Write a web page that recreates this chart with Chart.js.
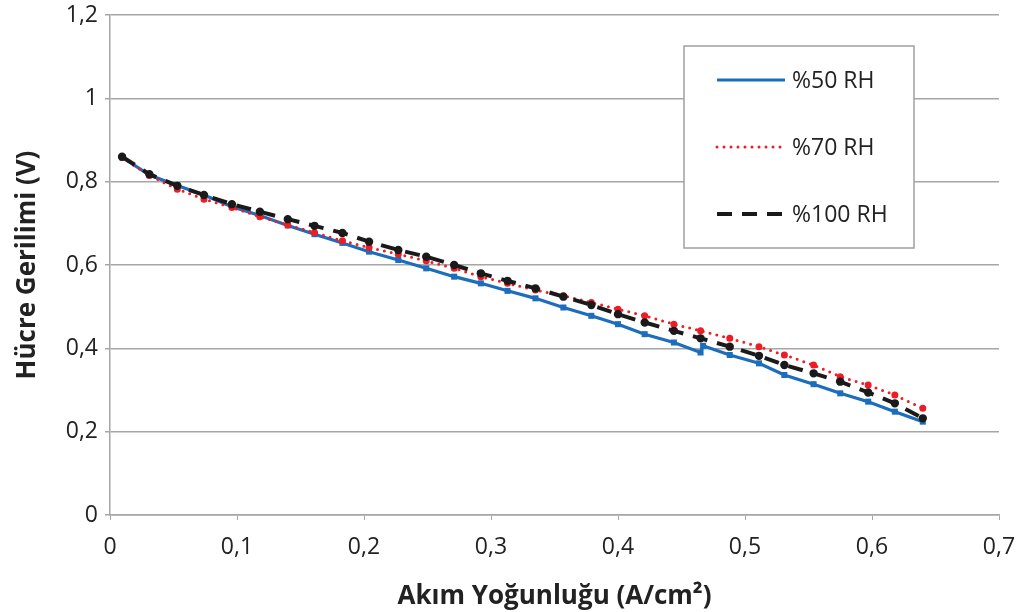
<!DOCTYPE html>
<html>
<head>
<meta charset="utf-8">
<script src="https://cdn.jsdelivr.net/npm/chart.js@4/dist/chart.umd.min.js"></script>
<style>
  html, body { margin: 0; padding: 0; background: #ffffff; }
  #wrap { width: 1023px; height: 612px; position: relative; }
</style>
</head>
<body>
<div id="wrap"><canvas id="c" width="1023" height="612"></canvas></div>
<script>
// ---- Data ----
const seriesNames = ["%50 RH", "%70 RH", "%100 RH"];

const currentRH50 = [0.0095, 0.031, 0.053, 0.074, 0.096, 0.118, 0.140, 0.161, 0.183, 0.204,
  0.227, 0.249, 0.271, 0.292, 0.313, 0.335, 0.357, 0.379, 0.400, 0.421,
  0.444, 0.465, 0.467, 0.488, 0.511, 0.531, 0.554, 0.575, 0.597, 0.618, 0.640];
const voltageRH50 = [0.859, 0.816, 0.791, 0.768, 0.740, 0.719, 0.695, 0.674, 0.653, 0.632,
  0.612, 0.592, 0.572, 0.556, 0.538, 0.520, 0.498, 0.478, 0.458, 0.434,
  0.414, 0.390, 0.406, 0.384, 0.364, 0.336, 0.314, 0.292, 0.272, 0.248, 0.224];

const currentRH70 = [0.0095, 0.031, 0.053, 0.074, 0.096, 0.118, 0.140, 0.161, 0.183, 0.204,
  0.227, 0.249, 0.271, 0.292, 0.313, 0.335, 0.357, 0.379, 0.400, 0.421,
  0.444, 0.465, 0.488, 0.511, 0.531, 0.554, 0.575, 0.597, 0.618, 0.640];
const voltageRH70 = [0.858, 0.815, 0.782, 0.758, 0.738, 0.716, 0.696, 0.678, 0.658, 0.642,
  0.626, 0.610, 0.592, 0.572, 0.556, 0.540, 0.526, 0.510, 0.494, 0.478,
  0.458, 0.442, 0.424, 0.404, 0.384, 0.360, 0.332, 0.312, 0.288, 0.256];

const currentRH100 = [0.0095, 0.031, 0.053, 0.074, 0.096, 0.118, 0.140, 0.161, 0.183, 0.204,
  0.227, 0.249, 0.271, 0.292, 0.313, 0.335, 0.357, 0.379, 0.400, 0.421,
  0.444, 0.465, 0.488, 0.511, 0.531, 0.554, 0.575, 0.597, 0.618, 0.640];
const voltageRH100 = [0.860, 0.818, 0.790, 0.768, 0.746, 0.728, 0.710, 0.694, 0.677, 0.656,
  0.636, 0.620, 0.600, 0.580, 0.562, 0.544, 0.524, 0.504, 0.482, 0.462,
  0.442, 0.424, 0.404, 0.382, 0.360, 0.340, 0.320, 0.294, 0.268, 0.232];

const xTickValues = [0, 0.1, 0.2, 0.3, 0.4, 0.5, 0.6, 0.7];
const yTickValues = [0, 0.2, 0.4, 0.6, 0.8, 1.0, 1.2];
const xTitle = "Akım Yoğunluğu (A/cm²)";
const yTitle = "Hücre Gerilimi (V)";

// ---- Helpers ----
const pairs = (xs, ys) => xs.map((x, i) => ({ x: x, y: ys[i] }));
const fmt = v => {
  const r = Math.round(v * 10) / 10;
  return String(r).replace('.', ',');
};
const FONT = "'Open Sans', 'DejaVu Sans', sans-serif";

// Legend drawn inside the plot like the reference
const boxLegend = {
  id: 'boxLegend',
  afterDraw(chart) {
    const ctx = chart.ctx;
    ctx.save();
    const bx = 684, by = 46, bw = 230, bh = 202;
    ctx.fillStyle = '#ffffff';
    ctx.fillRect(bx, by, bw, bh);
    ctx.strokeStyle = '#a0a0a0';
    ctx.lineWidth = 1.5;
    ctx.strokeRect(bx, by, bw, bh);
    const rows = [80, 147, 214];
    chart.data.datasets.forEach((ds, i) => {
      const y = rows[i];
      ctx.beginPath();
      ctx.strokeStyle = ds.borderColor;
      ctx.lineWidth = ds.borderWidth;
      ctx.lineCap = ds.borderCapStyle || 'butt';
      ctx.setLineDash(ds.borderDash || []);
      ctx.moveTo(717, y);
      ctx.lineTo(785, y);
      ctx.stroke();
      ctx.setLineDash([]);
      ctx.fillStyle = '#222222';
      ctx.font = "23px " + FONT;
      ctx.textBaseline = 'middle';
      ctx.textAlign = 'left';
      ctx.fillText(ds.label, 792, y + 1);
    });
    ctx.restore();
  }
};

new Chart(document.getElementById('c'), {
  type: 'line',
  data: {
    datasets: [
      {
        label: seriesNames[0],
        data: pairs(currentRH50, voltageRH50),
        borderColor: '#1c6dbb',
        backgroundColor: '#1c6dbb',
        borderWidth: 3.2,
        pointRadius: 2,
        pointHoverRadius: 2,
        pointStyle: 'rect',
        tension: 0,
        order: 3
      },
      {
        label: seriesNames[1],
        data: pairs(currentRH70, voltageRH70),
        borderColor: '#ee1c25',
        backgroundColor: '#ee1c25',
        borderWidth: 3,
        borderDash: [0, 7],
        borderCapStyle: 'round',
        pointRadius: 2,
        pointHoverRadius: 2,
        tension: 0,
        order: 2
      },
      {
        label: seriesNames[2],
        data: pairs(currentRH100, voltageRH100),
        borderColor: '#1a1a1a',
        backgroundColor: '#1a1a1a',
        borderWidth: 4,
        borderDash: [15, 10],
        pointRadius: 2.2,
        pointHoverRadius: 2.2,
        tension: 0,
        order: 1
      }
    ]
  },
  options: {
    responsive: false,
    animation: false,
    layout: { padding: { top: 15, right: 24, left: 0, bottom: 0 } },
    plugins: {
      legend: { display: false },
      tooltip: { enabled: false }
    },
    scales: {
      x: {
        type: 'linear',
        min: 0,
        max: 0.7,
        afterBuildTicks: s => { s.ticks = xTickValues.map(v => ({ value: v })); },
        afterFit: s => { s.height = 97; s.paddingRight = 0; s.paddingLeft = 0; },
        ticks: {
          callback: v => fmt(v),
          color: '#222222',
          font: { family: FONT, size: 23 },
          padding: 14,
          maxRotation: 0
        },
        grid: { display: true, drawOnChartArea: false, drawTicks: true, tickLength: 5, color: '#a6a6a6' },
        border: { display: true, color: '#a6a6a6', width: 1.5 },
        title: {
          display: true,
          text: xTitle,
          color: '#222222',
          font: { family: FONT, size: 26, weight: 'bold' },
          padding: { top: 0, bottom: 0 }
        }
      },
      y: {
        type: 'linear',
        min: 0,
        max: 1.2,
        afterBuildTicks: s => { s.ticks = yTickValues.map(v => ({ value: v })); },
        afterFit: s => { s.width = 110; s.paddingTop = 0; s.paddingBottom = 0; },
        ticks: {
          callback: v => fmt(v),
          color: '#222222',
          font: { family: FONT, size: 23 },
          padding: 7
        },
        grid: { color: '#a6a6a6', lineWidth: 1.5, tickLength: 5 },
        border: { display: true, color: '#a6a6a6', width: 1.5 },
        title: {
          display: true,
          text: yTitle,
          color: '#222222',
          font: { family: FONT, size: 26, weight: 'bold' },
          padding: { top: 12, bottom: 0 }
        }
      }
    }
  },
  plugins: [boxLegend]
});
</script>
</body>
</html>
